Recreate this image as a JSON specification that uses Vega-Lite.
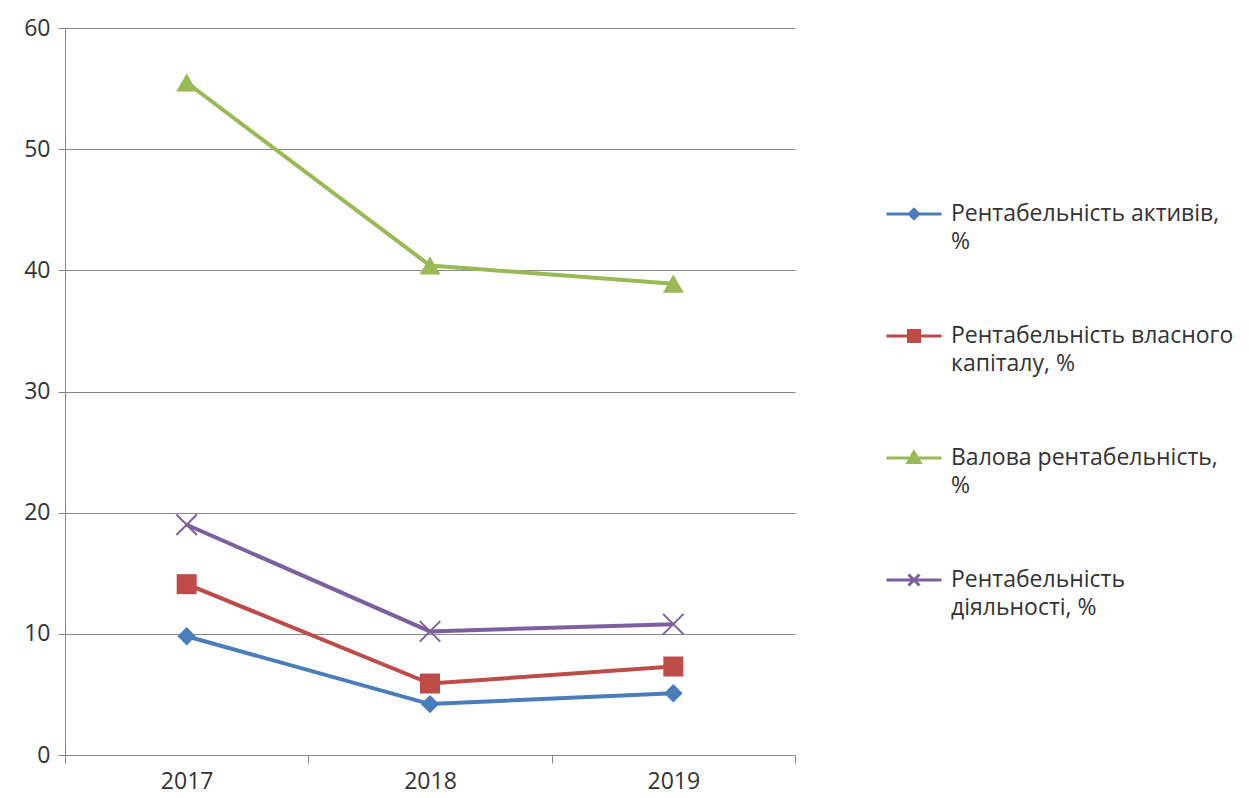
{
  "$schema": "https://vega.github.io/schema/vega-lite/v6.json",
  "width": 730,
  "height": 727,
  "autosize": {"type": "none"},
  "padding": {"left": 65, "top": 28, "right": 454, "bottom": 43},
  "background": "white",
  "config": {"font": "Open Sans", "view": {"stroke": null}},
  "data": {
    "values": [
      {"year": "2017", "series": "Рентабельність активів, %", "value": 9.8},
      {"year": "2018", "series": "Рентабельність активів, %", "value": 4.2},
      {"year": "2019", "series": "Рентабельність активів, %", "value": 5.1},
      {"year": "2017", "series": "Рентабельність власного капіталу, %", "value": 14.1},
      {"year": "2018", "series": "Рентабельність власного капіталу, %", "value": 5.9},
      {"year": "2019", "series": "Рентабельність власного капіталу, %", "value": 7.3},
      {"year": "2017", "series": "Валова рентабельність, %", "value": 55.5},
      {"year": "2018", "series": "Валова рентабельність, %", "value": 40.4},
      {"year": "2019", "series": "Валова рентабельність, %", "value": 38.9},
      {"year": "2017", "series": "Рентабельність діяльності, %", "value": 19.0},
      {"year": "2018", "series": "Рентабельність діяльності, %", "value": 10.2},
      {"year": "2019", "series": "Рентабельність діяльності, %", "value": 10.8}
    ]
  },
  "encoding": {
    "x": {
      "field": "year",
      "type": "ordinal",
      "bandPosition": 0.5,
      "scale": {"type": "band", "paddingInner": 0, "paddingOuter": 0},
      "axis": {
        "title": null,
        "labelAngle": 0,
        "labelFontSize": 23,
        "labelColor": "#333333",
        "labelPadding": 7,
        "tickBand": "extent",
        "tickSize": 8,
        "tickColor": "#888888",
        "domainColor": "#888888",
        "grid": false
      }
    },
    "y": {
      "field": "value",
      "type": "quantitative",
      "scale": {"domain": [0, 60], "nice": false},
      "axis": {
        "title": null,
        "values": [0, 10, 20, 30, 40, 50, 60],
        "labelFontSize": 23,
        "labelColor": "#333333",
        "labelPadding": 8,
        "tickSize": 7,
        "tickColor": "#888888",
        "domainColor": "#888888",
        "grid": true,
        "gridColor": "#888888",
        "gridOpacity": 1
      }
    },
    "color": {
      "field": "series",
      "type": "nominal",
      "scale": {
        "domain": ["Рентабельність активів, %", "Рентабельність власного капіталу, %", "Валова рентабельність, %", "Рентабельність діяльності, %"],
        "range": ["#4A7EBB", "#BE4B48", "#98B954", "#7D5FA0"]
      },
      "legend": {
        "orient": "none",
        "legendX": 820,
        "legendY": 157,
        "direction": "vertical",
        "title": null,
        "symbolSize": 3025,
        "symbolStrokeWidth": 3,
        "labelFontSize": 23,
        "labelColor": "#333333",
        "labelLimit": 400,
        "labelOffset": 8,
        "labelBaseline": "middle",
        "rowPadding": 53,
        "labelExpr": "datum.label == 'Рентабельність активів, %' ? ['Рентабельність активів,', '%'] : datum.label == 'Рентабельність власного капіталу, %' ? ['Рентабельність власного', 'капіталу, %'] : datum.label == 'Валова рентабельність, %' ? ['Валова рентабельність,', '%'] : ['Рентабельність', 'діяльності, %']",
        "encode": {
          "labels": {"update": {"lineHeight": {"value": 28}}},
          "symbols": {
            "update": {
              "shape": {"signal": "datum.value == 'Рентабельність активів, %' ? 'M-1,0L1,0M0,-0.17L0.17,0L0,0.17L-0.17,0Z' : datum.value == 'Рентабельність власного капіталу, %' ? 'M-1,0L1,0M-0.2,-0.2L0.2,-0.2L0.2,0.2L-0.2,0.2Z' : datum.value == 'Валова рентабельність, %' ? 'M-1,0L1,0M0,-0.22L0.22,0.16L-0.22,0.16Z' : 'M-1,0L1,0M-0.2,-0.2L0.2,0.2M-0.2,0.2L0.2,-0.2'"},
              "size": {"value": 3025},
              "fill": {"signal": "scale('color', datum.value)"},
              "stroke": {"signal": "scale('color', datum.value)"},
              "strokeWidth": {"value": 3},
              "opacity": {"value": 1}
            }
          }
        }
      }
    }
  },
  "layer": [
    {"mark": {"type": "line", "strokeWidth": 4}},
    {
      "transform": [{"filter": "datum.series == 'Рентабельність активів, %'"}],
      "mark": {"type": "point", "shape": "diamond", "filled": true, "opacity": 1, "size": 340}
    },
    {
      "transform": [{"filter": "datum.series == 'Рентабельність власного капіталу, %'"}],
      "mark": {"type": "point", "shape": "square", "filled": true, "opacity": 1, "size": 400}
    },
    {
      "transform": [{"filter": "datum.series == 'Валова рентабельність, %'"}],
      "mark": {"type": "point", "shape": "triangle-up", "filled": true, "opacity": 1, "size": 440}
    },
    {
      "transform": [{"filter": "datum.series == 'Рентабельність діяльності, %'"}],
      "mark": {"type": "point", "shape": "M-1,-1L1,1M-1,1L1,-1", "filled": false, "opacity": 1, "size": 420, "strokeWidth": 2}
    }
  ]
}
